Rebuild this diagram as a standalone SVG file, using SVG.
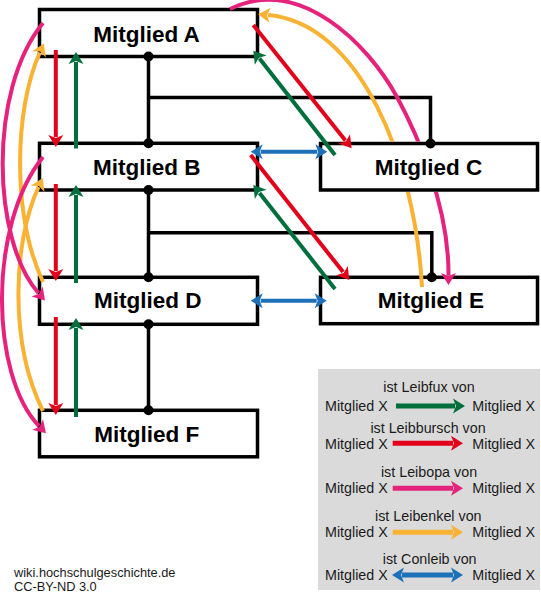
<svg xmlns="http://www.w3.org/2000/svg" width="541" height="599" viewBox="0 0 541 599">
<style>
.box{fill:#fff;stroke:#000;stroke-width:3.5}
.lbl{font-family:"Liberation Sans",Arial,sans-serif;font-weight:bold;font-size:22.5px;fill:#000;text-anchor:middle}
.tree{fill:none;stroke:#000;stroke-width:3.5}
.dot{fill:#000}
.a{fill:none;stroke-width:4}
.la{fill:none;stroke-width:5}
.g{stroke:#006f3c}.r{stroke:#e3001b}.p{stroke:#e5237d}.o{stroke:#f9b233}.b{stroke:#1d71b8}
.lt{font-family:"Liberation Sans",Arial,sans-serif;font-size:14.3px;fill:#1a1a1a}
.ft{font-family:"Liberation Sans",Arial,sans-serif;font-size:12.8px;fill:#1a1a1a}
</style>
<defs>
<marker id="hg" markerUnits="userSpaceOnUse" viewBox="-12 -12 24 24" markerWidth="24" markerHeight="24" refX="0" refY="0" orient="auto-start-reverse" overflow="visible"><path d="M10,0 L-2,-7.5 L1,0 L-2,7.5 Z" fill="#006f3c"/></marker>
<marker id="hr" markerUnits="userSpaceOnUse" viewBox="-12 -12 24 24" markerWidth="24" markerHeight="24" refX="0" refY="0" orient="auto-start-reverse" overflow="visible"><path d="M10,0 L-2,-7.5 L1,0 L-2,7.5 Z" fill="#e3001b"/></marker>
<marker id="hp" markerUnits="userSpaceOnUse" viewBox="-12 -12 24 24" markerWidth="24" markerHeight="24" refX="0" refY="0" orient="auto-start-reverse" overflow="visible"><path d="M10,0 L-2,-7.5 L1,0 L-2,7.5 Z" fill="#e5237d"/></marker>
<marker id="ho" markerUnits="userSpaceOnUse" viewBox="-12 -12 24 24" markerWidth="24" markerHeight="24" refX="0" refY="0" orient="auto-start-reverse" overflow="visible"><path d="M10,0 L-2,-7.5 L1,0 L-2,7.5 Z" fill="#f9b233"/></marker>
<marker id="hb" markerUnits="userSpaceOnUse" viewBox="-12 -12 24 24" markerWidth="24" markerHeight="24" refX="0" refY="0" orient="auto-start-reverse" overflow="visible"><path d="M10,0 L-2,-7.5 L1,0 L-2,7.5 Z" fill="#1d71b8"/></marker>
<mask id="hideC" maskUnits="userSpaceOnUse" x="-20" y="-20" width="580" height="640">
<rect x="-20" y="-20" width="580" height="640" fill="#fff"/>
<rect x="318.5" y="141.6" width="221" height="50.4" fill="#000"/>
</mask>
</defs>

<g id="nodeA"><rect class="box" x="39.5" y="9.5" width="218" height="47"/><text class="lbl" x="146.5" y="41.7">Mitglied A</text></g>
<g id="nodeB"><rect class="box" x="39.5" y="143.3" width="218" height="46.7"/><text class="lbl" x="146.8" y="175">Mitglied B</text></g>
<g id="nodeC"><rect class="box" x="320.5" y="143.5" width="217" height="46.5"/><text class="lbl" x="428.5" y="174.6">Mitglied C</text></g>
<g id="nodeD"><rect class="box" x="39.5" y="277.3" width="218" height="47"/><text class="lbl" x="147.8" y="308.3">Mitglied D</text></g>
<g id="nodeE"><rect class="box" x="320.5" y="277.3" width="217" height="46.4"/><text class="lbl" x="430.8" y="308.3">Mitglied E</text></g>
<g id="nodeF"><rect class="box" x="39.5" y="410.3" width="218" height="46.5"/><text class="lbl" x="146.7" y="441.7">Mitglied F</text></g>

<g id="connectors">
<path class="tree" d="M148.5,56.5 V143.3 M148.5,97.5 H430.5 V143.5 M148.5,190 V277.3 M148.5,232.8 H431.8 V277.3 M148.5,324.3 V410.3"/>
<g class="dot">
<circle cx="148.5" cy="56.5" r="5"/><circle cx="148.5" cy="143.3" r="5"/><circle cx="430.5" cy="143.5" r="5"/>
<circle cx="148.5" cy="190" r="5"/><circle cx="148.5" cy="277.3" r="5"/><circle cx="431.8" cy="277.3" r="5"/>
<circle cx="148.5" cy="324.3" r="5"/><circle cx="148.5" cy="410.3" r="5"/>
</g>
<path class="a r" d="M55.8,50 V137" marker-end="url(#hr)"/>
<path class="a g" d="M76,148.5 V62" marker-end="url(#hg)"/>
<path class="a r" d="M55.8,184 V271" marker-end="url(#hr)"/>
<path class="a g" d="M76,283 V195" marker-end="url(#hg)"/>
<path class="a r" d="M55.8,317 V405" marker-end="url(#hr)"/>
<path class="a g" d="M76,417 V328" marker-end="url(#hg)"/>
<path class="a r" d="M253.3,25 L345.4,140.5" marker-end="url(#hr)"/>
<path class="a g" d="M335,155 L259.5,58.6" marker-end="url(#hg)"/>
<path class="a r" d="M250.7,155 L343.1,272.1" marker-end="url(#hr)"/>
<path class="a g" d="M335,289 L259.5,192.9" marker-end="url(#hg)"/>
<path class="a b" d="M260.7,151.8 H317.3" marker-start="url(#hb)" marker-end="url(#hb)"/>
<path class="a b" d="M260.7,300.7 H316.7" marker-start="url(#hb)" marker-end="url(#hb)"/>
<g mask="url(#hideC)">
<path class="a o" d="M422,287 C415,160 360,23 268,15" marker-end="url(#ho)"/>
<path class="a p" d="M230,9 C300,-25 368,44 397,97 C416,132 449,205 448.5,275" marker-end="url(#hp)"/>
</g>
<path class="a o" d="M43,282 C12,215 14,110 39.8,52.5" marker-end="url(#ho)"/>
<path class="a o" d="M43,411 C10,345 12,245 38.5,187" marker-end="url(#ho)"/>
<path class="a p" d="M43,23 C-12,90 -8,240 38.4,293" marker-end="url(#hp)"/>
<path class="a p" d="M43,157 C-12,225 -10,375 39,426" marker-end="url(#hp)"/>
</g>

<g id="legend">
<rect x="318" y="369" width="222" height="221" fill="#dadada"/>
<text class="lt" x="429" y="392" text-anchor="middle">ist Leibfux von</text>
<text class="lt" x="325" y="411">Mitglied X</text><text class="lt" x="472.3" y="411">Mitglied X</text>
<path class="la g" d="M396,406 H455" marker-end="url(#hg)"/>
<text class="lt" x="428" y="433" text-anchor="middle">ist Leibbursch von</text>
<text class="lt" x="325" y="449">Mitglied X</text><text class="lt" x="472.3" y="449">Mitglied X</text>
<path class="la r" d="M392.7,443.3 H453" marker-end="url(#hr)"/>
<text class="lt" x="429" y="477" text-anchor="middle">ist Leibopa von</text>
<text class="lt" x="325" y="493">Mitglied X</text><text class="lt" x="472.3" y="493">Mitglied X</text>
<path class="la p" d="M392.7,488.3 H453" marker-end="url(#hp)"/>
<text class="lt" x="428.3" y="521" text-anchor="middle">ist Leibenkel von</text>
<text class="lt" x="325" y="537">Mitglied X</text><text class="lt" x="472.3" y="537">Mitglied X</text>
<path class="la o" d="M392.7,532.3 H453" marker-end="url(#ho)"/>
<text class="lt" x="429.7" y="564.3" text-anchor="middle">ist Conleib von</text>
<text class="lt" x="325" y="580">Mitglied X</text><text class="lt" x="472.3" y="580">Mitglied X</text>
<path class="la b" d="M402,575 H453" marker-start="url(#hb)" marker-end="url(#hb)"/>
</g>

<g id="footer">
<text class="ft" x="14" y="577">wiki.hochschulgeschichte.de</text>
<text class="ft" x="14" y="590.6">CC-BY-ND 3.0</text>
</g>
</svg>
